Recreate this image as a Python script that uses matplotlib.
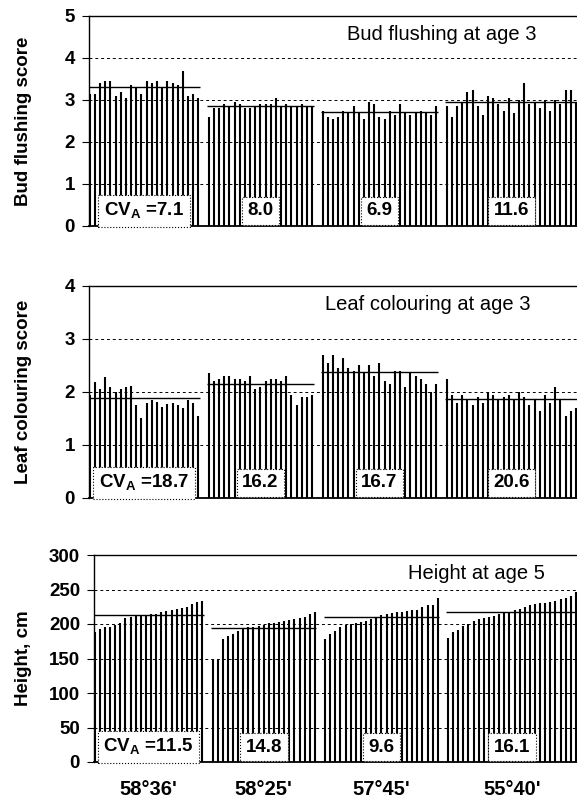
import numpy as np
import matplotlib.pyplot as plt
from matplotlib.transforms import blended_transform_factory

plt.rcParams['font.family'] = ['Liberation Sans', 'DejaVu Sans']

# provenances (latitude) and family values per provenance
provenances = ["58°36'", "58°25'", "57°45'", "55°40'"]

bud_g1 = [3.15, 3.15, 3.40, 3.45, 3.45, 3.10, 3.20, 3.05, 3.35, 3.30, 3.15,
          3.45, 3.40, 3.45, 3.30, 3.45, 3.40, 3.35, 3.70, 3.10, 3.15, 3.05]
bud_g2 = [2.60, 2.80, 2.80, 2.90, 2.85, 2.95, 2.90, 2.80, 2.80, 2.85, 2.90,
          2.90, 2.90, 3.05, 2.85, 2.90, 2.85, 2.85, 2.90, 2.85, 2.85]
bud_g3 = [2.75, 2.60, 2.55, 2.60, 2.75, 2.70, 2.85, 2.70, 2.55, 2.95, 2.90,
          2.60, 2.55, 2.75, 2.65, 2.90, 2.70, 2.65, 2.70, 2.75, 2.70, 2.65, 2.85]
bud_g4 = [2.85, 2.60, 2.85, 2.95, 3.20, 3.25, 2.85, 2.65, 3.10, 3.05, 2.90, 2.75, 3.05,
          2.70, 3.00, 3.40, 2.90, 2.95, 2.80, 3.00, 2.75, 3.00, 2.90, 3.25, 3.25, 2.95]

leaf_g1 = [1.95, 2.18, 2.05, 2.28, 2.10, 2.00, 2.05, 2.10, 2.12, 1.75, 1.50,
           1.80, 1.85, 1.82, 1.72, 1.78, 1.80, 1.75, 1.70, 1.85, 1.80, 1.55]
leaf_g2 = [2.35, 2.20, 2.25, 2.30, 2.30, 2.25, 2.25, 2.20, 2.30, 2.05, 2.10,
           2.20, 2.25, 2.25, 2.20, 2.30, 1.95, 1.75, 1.90, 1.90, 1.95]
leaf_g3 = [2.70, 2.55, 2.70, 2.45, 2.65, 2.45, 2.40, 2.50, 2.35, 2.50, 2.30,
           2.55, 2.20, 2.15, 2.40, 2.40, 2.10, 2.35, 2.30, 2.25, 2.15, 2.00, 2.15]
leaf_g4 = [2.25, 1.95, 1.80, 1.95, 1.85, 1.75, 1.90, 1.80, 2.00, 1.95, 1.85, 1.90, 1.95,
           1.85, 2.00, 1.90, 1.75, 1.85, 1.65, 1.95, 1.80, 2.10, 1.85, 1.55, 1.65, 1.70]

height_g1 = [188, 193, 195, 196, 198, 201, 208, 210, 211, 212, 213,
             214, 215, 217, 219, 220, 222, 223, 225, 229, 232, 234]
height_g2 = [148, 150, 178, 182, 186, 190, 193, 195, 196, 197, 199,
             201, 202, 203, 205, 206, 207, 209, 210, 214, 218]
height_g3 = [178, 185, 190, 195, 198, 200, 201, 203, 205, 207, 210, 213,
             215, 216, 217, 218, 219, 220, 221, 224, 228, 228, 238]
height_g4 = [180, 188, 192, 197, 200, 205, 207, 208, 210, 212, 214, 216, 218,
             220, 222, 225, 228, 229, 230, 231, 232, 234, 236, 238, 240, 246]

cv_bud = ['7.1', '8.0', '6.9', '11.6']
cv_leaf = ['18.7', '16.2', '16.7', '20.6']
cv_height = ['11.5', '14.8', '9.6', '16.1']

panels = [
    ([bud_g1, bud_g2, bud_g3, bud_g4], cv_bud, 'Bud flushing score',
     'Bud flushing at age 3', 5, 1),
    ([leaf_g1, leaf_g2, leaf_g3, leaf_g4], cv_leaf, 'Leaf colouring score',
     'Leaf colouring at age 3', 4, 1),
    ([height_g1, height_g2, height_g3, height_g4], cv_height, 'Height, cm',
     'Height at age 5', 300, 50),
]

fig = plt.figure(figsize=(5.77, 8.02), dpi=100)
W, H = 577.0, 802.0
# pixel frame of each panel: left, top, bottom; title left edge in px
frames = [(89, 16, 226, 347), (89, 286, 498, 325), (94, 555, 762, 408)]

gap = 2
for k, (groups, cvs, ylab, title, ymax, step) in enumerate(panels):
    x0, top, bot, tpx = frames[k]
    ax = fig.add_axes([x0 / W, 1 - bot / H, 1 - x0 / W, (bot - top) / H])
    start = 0.15
    centers = []
    for g, vals in enumerate(groups):
        x = start + np.arange(len(vals))
        ax.vlines(x, 0, vals, color='black', lw=1.5, zorder=2)
        m = np.mean(vals)
        ax.hlines(m, x[0] - 0.3, x[-1] + 0.3, color='black', lw=1.0, zorder=3)
        centers.append((x[0] + x[-1]) / 2)
        start = x[-1] + gap
    ax.set_xlim(0, start - gap + 0.2)
    ax.set_ylim(0, ymax)
    ticks = np.arange(0, ymax + step / 2, step)
    ax.set_yticks(ticks)
    ax.set_yticklabels([f'{t:g}' for t in ticks], fontsize=13.5, fontweight='bold')
    for t in ticks[1:-1]:
        ax.axhline(t, color='black', lw=0.7, ls=(0, (3, 3)), zorder=1)
    ax.spines['right'].set_visible(False)
    ax.spines['left'].set_linewidth(1.0)
    ax.spines['top'].set_linewidth(1.0)
    ax.spines['bottom'].set_linewidth(1.3)
    ax.tick_params(axis='y', direction='out', length=5, width=0.8, pad=5)
    ax.set_ylabel(ylab, fontsize=13.5, fontweight='bold')
    wpx = W - x0
    ax.yaxis.set_label_coords((32 - x0) / wpx, 0.5)
    ax.text((tpx - x0) / wpx, 0.912, title, transform=ax.transAxes, ha='left',
            va='center', fontsize=14.5)
    trans = blended_transform_factory(ax.transData, ax.transAxes)
    for g, c in enumerate(cvs):
        label = r'CV$_\mathregular{A}$ =' + c if g == 0 else c
        ax.text(centers[g], 0.072, label, transform=trans, ha='center', va='center',
                fontsize=13.5, fontweight='bold', zorder=5,
                bbox=dict(boxstyle='square,pad=0.3', facecolor='white',
                          edgecolor='black', linestyle=':', linewidth=0.8))
    if k == 2:
        ax.set_xticks(centers)
        ax.set_xticklabels(provenances, fontsize=14.5, fontweight='bold')
        ax.tick_params(axis='x', length=0, pad=13)
    else:
        ax.set_xticks([])

fig.savefig('out.png', dpi=100)
